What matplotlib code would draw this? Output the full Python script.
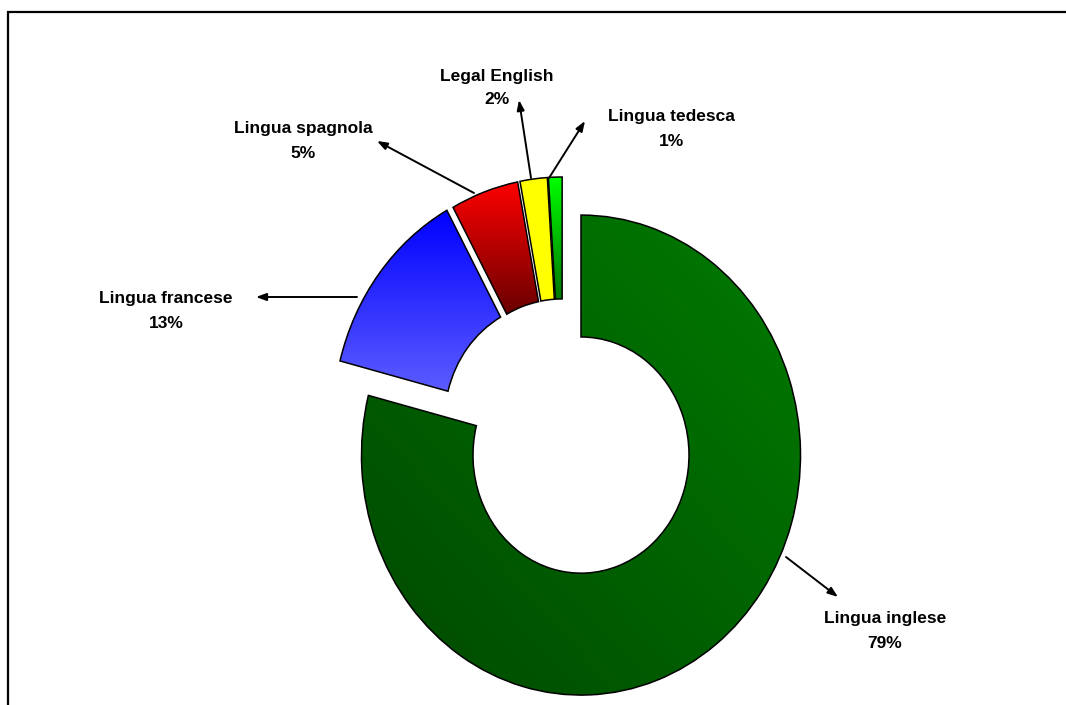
import numpy as np
import matplotlib.pyplot as plt
from matplotlib.colors import to_rgb

# course share by language
languages = ["Lingua inglese", "Lingua francese", "Lingua spagnola",
             "Legal English", "Lingua tedesca"]
shares = [79, 13, 5, 2, 1]

# (first colour, second colour, direction) for each ring segment
fills = [
    ("#004800", "#007c00", "diag"),
    ("#0000ff", "#5c5cff", "vert"),
    ("#ff0000", "#6a0000", "vert"),
    ("#ffff00", "#ffff00", "vert"),
    ("#00ff00", "#007800", "vert"),
]
explode = [0.1375, 0.057, 0.05, 0.05, 0.05]

# label block centre and arrow (tail, head) in pixels
label_pos = [(885, 631), (166, 311), (303, 141), (497, 88), (671, 129)]
arrows = [((786, 557), (838, 597)),
          ((357, 297), (256, 297)),
          ((474, 193), (377, 141)),
          ((531, 178), (519, 100)),
          ((549, 178), (585, 121))]

W, H = 1066, 705
CX, CY = 562.5, 429.0     # ring centre in pixels
RX, RY = 219.5, 240.0     # outer radius in pixels (x, y)


def gradient(c1, c2, mode, n=200):
    """RGB image going from c1 to c2; row 0 is the top of the image."""
    a = np.array(to_rgb(c1))
    b = np.array(to_rgb(c2))
    yy, xx = np.mgrid[0:1:n * 1j, 0:1:n * 1j]
    if mode == "diag":
        t = (xx + (1 - yy)) / 2   # dark bottom-left -> light top-right
    else:
        t = yy                    # top -> bottom
    return a * (1 - t[..., None]) + b * t[..., None]


fig = plt.figure(figsize=(W / 100, H / 100), dpi=100)
ax = fig.add_axes([0, 0, 1, 1])

wedges, _ = ax.pie(shares, startangle=90, counterclock=False, explode=explode,
                   radius=1.0, wedgeprops=dict(width=0.508, edgecolor="black",
                                               linewidth=1.1))

for w, (c1, c2, mode) in zip(wedges, fills):
    ext = w.get_path().get_extents()
    im = ax.imshow(gradient(c1, c2, mode), extent=(ext.x0, ext.x1, ext.y0, ext.y1),
                   origin="upper", aspect="auto", zorder=1,
                   interpolation="bilinear")
    im.set_clip_path(w)
    w.set_facecolor("none")
    w.set_zorder(3)

ax.set_aspect("auto")
ax.set_xlim(-CX / RX, (W - CX) / RX)
ax.set_ylim((CY - H) / RY, CY / RY)
ax.axis("off")

# overlay in pixel coordinates for labels, arrows and the frame
ov = fig.add_axes([0, 0, 1, 1], zorder=5)
ov.set_xlim(0, W)
ov.set_ylim(H, 0)
ov.axis("off")
ov.patch.set_alpha(0)

for name, val, (lx, ly), (tail, head) in zip(languages, shares, label_pos, arrows):
    ov.text(lx, ly, f"{name}\n{val}%", ha="center", va="center",
            fontsize=12.5, fontweight="bold", family="Liberation Sans",
            linespacing=1.75, color="black")
    ov.annotate("", xy=head, xytext=tail,
                arrowprops=dict(arrowstyle="-|>,head_length=0.6,head_width=0.22",
                                color="black", lw=1.4, shrinkA=0, shrinkB=0))

ov.plot([8, 8, W], [H, 12, 12], color="black", lw=1.6, solid_capstyle="butt",
        solid_joinstyle="miter")

fig.savefig("out.png", dpi=100)
